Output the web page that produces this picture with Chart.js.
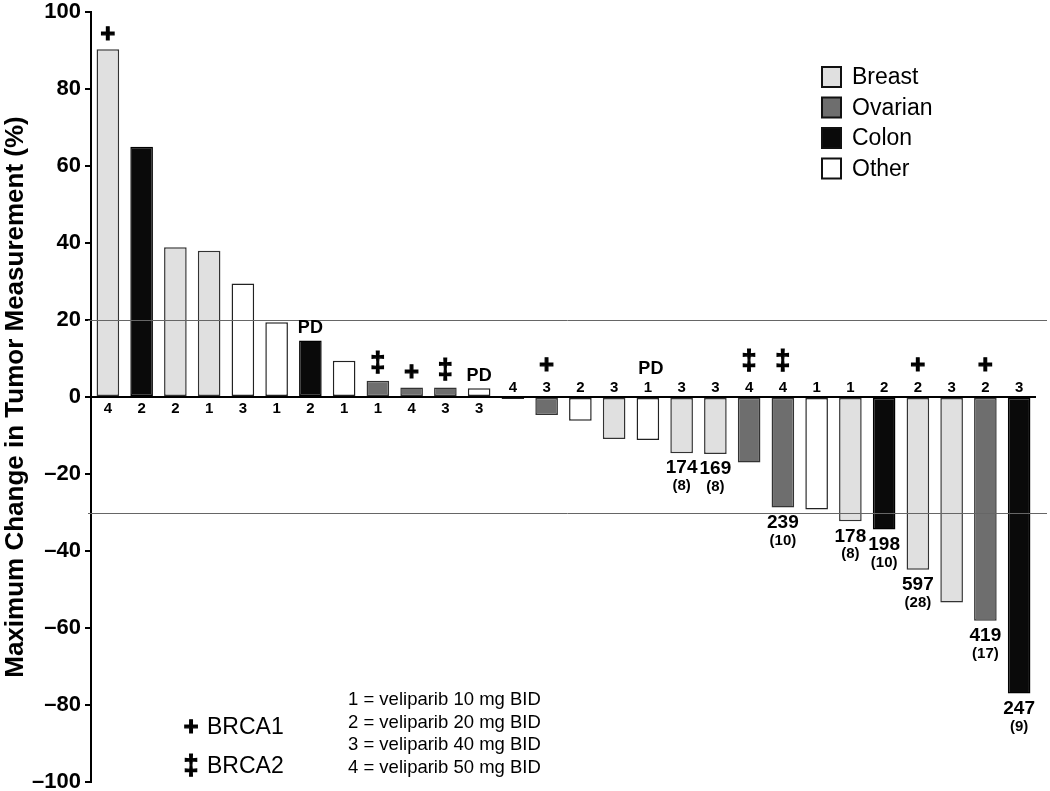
<!DOCTYPE html>
<html>
<head>
<meta charset="utf-8">
<script src="https://cdn.jsdelivr.net/npm/chart.js@4.4.0/dist/chart.umd.min.js"></script>
<style>
  html, body { margin: 0; padding: 0; background: #fff; }
  #wrap { width: 1050px; height: 791px; position: relative; }
</style>
</head>
<body>
<div id="wrap"><canvas id="waterfall"></canvas></div>
<script>
// ─── DADOS ────────────────────────────────────────────────
const values = [90.3, 65, 38.9, 38, 29.5, 19.4, 14.7, 9.4, 4.2, 2.5, 2.5, 2.3, -0.5,
  -4.7, -6.2, -10.9, -11.2, -14.6, -14.8, -17, -28.7, -29.2, -32.3, -34.4, -44.9, -53.4, -58.1, -77];
const tumors = ['Breast', 'Colon', 'Breast', 'Breast', 'Other', 'Other', 'Colon', 'Other', 'Ovarian',
  'Ovarian', 'Ovarian', 'Other', 'Other', 'Ovarian', 'Other', 'Breast', 'Other', 'Breast', 'Breast',
  'Ovarian', 'Ovarian', 'Other', 'Breast', 'Colon', 'Breast', 'Breast', 'Ovarian', 'Colon'];
const doses = [4, 2, 2, 1, 3, 1, 2, 1, 1, 4, 3, 3, 4, 3, 2, 3, 1, 3, 3, 4, 4, 1, 1, 2, 2, 3, 2, 3];
const brca = ['+', '', '', '', '', '', '', '', '\u2021', '+', '\u2021', '', '', '+', '', '', '', '', '',
  '\u2021', '\u2021', '', '', '', '+', '', '+', ''];
const pd = [6, 11, 16];
const days = { 17: ['174', '(8)'], 18: ['169', '(8)'], 20: ['239', '(10)'], 22: ['178', '(8)'],
  23: ['198', '(10)'], 24: ['597', '(28)'], 26: ['419', '(17)'], 27: ['247', '(9)'] };
const thresholds = [20, -30];
const yTicks = { min: -100, max: 100, step: 20 };
const legendTypes = ['Breast', 'Ovarian', 'Colon', 'Other'];
const brcaKey = [['+', 'BRCA1'], ['\u2021', 'BRCA2']];
const doseKey = ['1 = veliparib 10 mg BID', '2 = veliparib 20 mg BID', '3 = veliparib 40 mg BID', '4 = veliparib 50 mg BID'];

const FONT = '"Liberation Sans", Arial, sans-serif';
const fills = { Breast: '#e0e0e0', Ovarian: '#6e6e6e', Colon: '#0a0a0a', Other: '#ffffff' };
const borders = { Breast: '#333', Ovarian: '#333', Colon: '#000', Other: '#222' };

function txt(ctx, s, x, y, size, bold, align = 'center', heavy = 0) {
  ctx.font = (bold ? 'bold ' : '') + size + 'px ' + FONT;
  ctx.textAlign = align;
  ctx.textBaseline = 'middle';
  ctx.fillStyle = '#000';
  ctx.fillText(s, x, y);
  if (heavy) {
    ctx.strokeStyle = '#000';
    ctx.lineWidth = heavy;
    ctx.strokeText(s, x, y);
  }
}

// símbolo BRCA (+ ou ‡), um pouco mais grosso
function mark(ctx, s, x, y) {
  txt(ctx, s, x, y, s === '+' ? 25 : 27, true, 'center', 1.2);
}

const annotPlugin = {
  id: 'annot',
  afterDatasetsDraw(chart) {
    const { ctx, chartArea, scales } = chart;
    const y0 = scales.y.getPixelForValue(0);
    ctx.save();
    // linhas de referência
    ctx.strokeStyle = '#666';
    ctx.lineWidth = 1;
    thresholds.forEach(t => {
      const yy = Math.round(scales.y.getPixelForValue(t)) + 0.5;
      ctx.beginPath();
      ctx.moveTo(chartArea.left - 3, yy);
      ctx.lineTo(chart.width - 3, yy);
      ctx.stroke();
    });
    // eixo zero
    ctx.strokeStyle = '#000';
    ctx.lineWidth = 2;
    ctx.beginPath();
    ctx.moveTo(chartArea.left, y0);
    ctx.lineTo(chartArea.right, y0);
    ctx.stroke();

    const meta = chart.getDatasetMeta(0);
    meta.data.forEach((bar, i) => {
      const x = bar.x;
      const v = values[i];
      if (v >= 0) {
        txt(ctx, String(doses[i]), x, y0 + 12, 15, true);
        if (brca[i]) mark(ctx, brca[i], x, bar.y - (brca[i] === '+' ? 14 : 17));
        if (pd.includes(i)) txt(ctx, 'PD', x, bar.y - 12, 18, true);
      } else {
        txt(ctx, String(doses[i]), x, y0 - 9, 15, true);
        if (brca[i]) mark(ctx, brca[i], x, y0 - (brca[i] === '+' ? 31 : 35));
        if (pd.includes(i)) txt(ctx, 'PD', x + 3, y0 - 28, 18, true);
        if (days[i]) {
          txt(ctx, days[i][0], x, bar.y + 15, 19, true);
          txt(ctx, days[i][1], x, bar.y + 33, 15, true);
        }
      }
    });

    // legenda
    legendTypes.forEach((t, k) => {
      const cy = 77 + k * 30.5;
      ctx.fillStyle = fills[t];
      ctx.fillRect(822, cy - 10, 19, 20);
      ctx.strokeStyle = '#111';
      ctx.lineWidth = 2;
      ctx.strokeRect(822, cy - 10, 19, 20);
      txt(ctx, t, 852, cy + 1, 23, false, 'left');
    });

    // chaves BRCA e doses
    brcaKey.forEach((b, k) => {
      const cy = 728 + k * 39;
      mark(ctx, b[0], 191, cy);
      txt(ctx, b[1], 207, cy, 23, false, 'left');
    });
    doseKey.forEach((d, k) => {
      txt(ctx, d, 348, 700 + k * 22.7, 18.5, false, 'left');
    });
    ctx.restore();
  }
};

const canvas = document.getElementById('waterfall');
new Chart(canvas, {
  type: 'bar',
  data: {
    labels: values.map((_, i) => String(i + 1)),
    datasets: [{
      data: values,
      backgroundColor: tumors.map(t => fills[t]),
      borderColor: tumors.map(t => borders[t]),
      borderWidth: 1.5,
      borderSkipped: false,
      barPercentage: 0.67,
      categoryPercentage: 1
    }]
  },
  options: {
    responsive: true,
    maintainAspectRatio: false,
    animation: false,
    layout: { padding: { top: 0, bottom: 0, right: 14, left: 0 } },
    plugins: { legend: { display: false }, tooltip: { enabled: false } },
    scales: {
      x: { display: false },
      y: {
        min: yTicks.min,
        max: yTicks.max,
        afterFit: s => { s.width = 91; s.paddingTop = 12; s.paddingBottom = 9; },
        ticks: {
          stepSize: yTicks.step,
          color: '#000',
          padding: 4,
          font: { family: FONT, size: 22, weight: 'bold' },
          callback: v => (v < 0 ? '\u2013' + Math.abs(v) : String(v))
        },
        grid: { drawOnChartArea: false, color: '#000', lineWidth: 2, tickLength: 6 },
        border: { color: '#000', width: 2 },
        title: {
          display: true,
          text: 'Maximum Change in Tumor Measurement (%)',
          color: '#000',
          padding: { top: 0, bottom: 0 },
          font: { family: FONT, size: 26, weight: 'bold' }
        }
      }
    }
  },
  plugins: [annotPlugin]
});
</script>
</body>
</html>
